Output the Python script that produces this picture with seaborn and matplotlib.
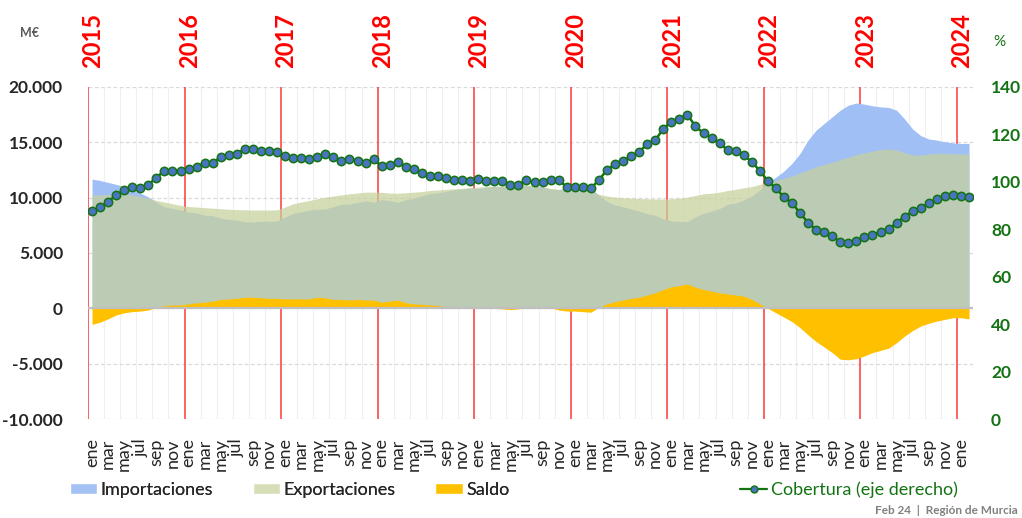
import numpy as np
import pandas as pd
import matplotlib.pyplot as plt
import seaborn as sns
from matplotlib.patches import Patch
from matplotlib.lines import Line2D
from matplotlib.ticker import FuncFormatter
from matplotlib.transforms import blended_transform_factory

sns.set_theme(style='white')
plt.rcParams['font.family'] = ['Lato', 'DejaVu Sans']

##############################################################################
# data (miles de M€ y %), ene 2015 - feb 2024
##############################################################################
years = list(range(2015, 2025))
meses = ['ene', 'feb', 'mar', 'abr', 'may', 'jun',
         'jul', 'ago', 'sep', 'oct', 'nov', 'dic']

importaciones = [
    11.68, 11.55, 11.38, 11.20, 11.00, 10.75, 10.42, 10.05, 9.58, 9.17, 9.03, 8.88,
    8.71, 8.62, 8.42, 8.37, 8.15, 8.04, 7.98, 7.81, 7.81, 7.87, 7.87, 7.90,
    8.26, 8.58, 8.71, 8.88, 8.97, 8.98, 9.19, 9.41, 9.43, 9.57, 9.72, 9.59,
    9.82, 9.74, 9.59, 9.82, 9.94, 10.18, 10.38, 10.43, 10.56, 10.71, 10.76, 10.87,
    10.82, 10.96, 11.01, 11.01, 11.21, 11.26, 11.06, 11.07, 10.97, 10.76, 10.72, 10.90,
    10.89, 10.84, 10.84, 10.22, 9.67, 9.34, 9.18, 8.98, 8.80, 8.54, 8.41, 8.07,
    7.89, 7.85, 7.83, 8.27, 8.59, 8.78, 9.02, 9.40, 9.52, 9.79, 10.15, 10.70,
    11.37, 11.85, 12.40, 13.10, 14.00, 15.20, 16.10, 16.70, 17.30, 17.90, 18.35, 18.55,
    18.45, 18.30, 18.20, 18.15, 17.90, 17.10, 16.20, 15.60, 15.30, 15.20, 15.05, 14.95,
    14.90, 14.90,
]
exportaciones = [
    10.24, 10.25, 10.28, 10.30, 10.30, 10.25, 10.10, 9.95, 9.75, 9.60, 9.45, 9.30,
    9.20, 9.15, 9.10, 9.05, 9.00, 8.95, 8.92, 8.90, 8.88, 8.88, 8.88, 8.90,
    9.15, 9.45, 9.60, 9.75, 9.90, 10.05, 10.15, 10.25, 10.35, 10.42, 10.50, 10.50,
    10.48, 10.42, 10.40, 10.45, 10.50, 10.55, 10.65, 10.70, 10.75, 10.80, 10.85, 10.90,
    10.95, 11.00, 11.05, 11.05, 11.08, 11.12, 11.15, 11.05, 10.95, 10.85, 10.75, 10.70,
    10.65, 10.60, 10.55, 10.30, 10.15, 10.05, 10.00, 9.95, 9.92, 9.90, 9.88, 9.88,
    9.90, 9.95, 10.05, 10.20, 10.35, 10.40, 10.50, 10.65, 10.75, 10.90, 11.00, 11.20,
    11.40, 11.55, 11.75, 11.95, 12.25, 12.50, 12.80, 13.00, 13.20, 13.45, 13.65, 13.90,
    14.05, 14.20, 14.35, 14.40, 14.30, 14.05, 13.85, 13.85, 13.95, 14.00, 14.00, 13.98,
    13.95, 13.95,
]
saldo = [
    -1.45, -1.25, -0.95, -0.60, -0.40, -0.30, -0.25, -0.15, 0.10, 0.25, 0.30, 0.30,
    0.40, 0.50, 0.55, 0.65, 0.80, 0.85, 0.90, 1.00, 1.00, 0.95, 0.90, 0.90,
    0.85, 0.85, 0.85, 0.85, 1.00, 0.95, 0.80, 0.80, 0.75, 0.80, 0.75, 0.75,
    0.55, 0.65, 0.75, 0.50, 0.40, 0.35, 0.30, 0.25, 0.15, 0.10, 0.05, 0.03,
    0.05, 0.02, 0.00, -0.05, -0.12, -0.05, 0.05, 0.02, 0.05, 0.05, -0.15, -0.25,
    -0.25, -0.30, -0.35, 0.10, 0.40, 0.60, 0.75, 0.90, 1.00, 1.20, 1.40, 1.70,
    1.95, 2.05, 2.20, 1.90, 1.70, 1.55, 1.40, 1.30, 1.20, 1.10, 0.80, 0.40,
    0.00, -0.40, -0.80, -1.20, -1.75, -2.40, -3.00, -3.50, -4.00, -4.60, -4.65, -4.55,
    -4.30, -4.00, -3.80, -3.60, -3.10, -2.50, -2.00, -1.60, -1.35, -1.15, -1.00, -0.85,
    -0.85, -0.95,
]
cobertura = [
    87.7, 89.3, 91.5, 94.5, 96.5, 98.0, 97.4, 98.8, 101.8, 104.7, 104.7, 104.7,
    105.6, 106.2, 108.1, 108.1, 110.4, 111.3, 111.8, 113.9, 113.7, 112.9, 112.9, 112.7,
    110.8, 110.2, 110.2, 109.8, 110.4, 111.9, 110.4, 108.9, 109.8, 108.9, 108.0, 109.5,
    106.7, 107.0, 108.5, 106.4, 105.6, 103.6, 102.6, 102.6, 101.8, 100.8, 100.8, 100.3,
    101.2, 100.4, 100.4, 100.4, 98.8, 98.8, 100.8, 99.8, 99.8, 100.8, 100.8, 97.8,
    97.8, 97.8, 97.3, 100.8, 105.0, 107.6, 108.9, 110.8, 112.7, 115.9, 117.5, 122.4,
    125.4, 126.7, 128.3, 123.4, 120.5, 118.5, 116.4, 113.3, 112.9, 111.3, 108.4, 104.7,
    100.3, 97.3, 93.5, 91.1, 86.8, 82.8, 79.8, 78.9, 77.2, 74.5, 74.1, 75.2,
    76.8, 77.6, 79.0, 80.0, 82.8, 85.3, 87.7, 89.1, 91.0, 92.8, 94.1, 94.3,
    93.9, 93.5,
]

df = pd.DataFrame({
    'fecha': pd.date_range('2015-01-01', periods=len(cobertura), freq='MS'),
    'Importaciones': np.array(importaciones) * 1000,
    'Exportaciones': np.array(exportaciones) * 1000,
    'Saldo': np.array(saldo) * 1000,
    'Cobertura': cobertura,
})
df['idx'] = np.arange(len(df))
df['mes'] = [meses[m - 1] for m in df.fecha.dt.month]

verde = '#137313'
c_imp, c_exp, c_saldo = '#a0bff5', '#c6d19c', '#ffc000'

##############################################################################
# plot
##############################################################################
fig = plt.figure(figsize=(10.22, 5.18), dpi=100)
ax = fig.add_axes([0.0861, 0.1911, 0.866, 0.641])

for v in np.arange(-0.5, len(df), 2):
    ax.axvline(v, color='#efefef', lw=0.8, zorder=0)
for v in range(-10000, 20001, 5000):
    ax.axhline(v, color='#d9d9d9', lw=0.9, ls=(0, (3, 2)), zorder=0.2)
for j in range(len(years)):
    ax.axvline(12 * j - 0.5, color='#ff3b3b', lw=1.1, zorder=0.5)

ax.fill_between(df.idx, 0, df.Importaciones, color=c_imp, lw=0, zorder=1)
ax.fill_between(df.idx, 0, df.Exportaciones, color=c_exp, alpha=0.72, lw=0, zorder=1.5)
ax.fill_between(df.idx, 0, df.Saldo, color=c_saldo, lw=0, zorder=2)
ax.axhline(0, color='#bfbfbf', lw=1.6, zorder=2.5)

ax.set_xlim(-0.5, len(df) - 0.5)
ax.set_ylim(-10000, 20000)
ax.set_yticks(range(-10000, 20001, 5000))
ax.yaxis.set_major_formatter(FuncFormatter(lambda v, p: f'{v:,.0f}'.replace(',', '.')))
ax.set_xticks(df.idx[::2])
ax.set_xticklabels(df.mes[::2], rotation=90, fontsize=13)
ax.tick_params(axis='x', length=0, pad=14)
ax.tick_params(axis='y', length=0, pad=18, labelsize=12.5)
for t in ax.get_yticklabels():
    t.set_fontweight('bold')
ax.set(xlabel='', ylabel='')
sns.despine(ax=ax, left=True, bottom=True)

ax2 = ax.twinx()
sns.lineplot(data=df, x='idx', y='Cobertura', ax=ax2, color=verde, lw=1.8,
             marker='o', markersize=6, markerfacecolor='#4a74c0',
             markeredgecolor=verde, markeredgewidth=1.1, zorder=5)
ax2.set_ylim(0, 140)
ax2.set_yticks(range(0, 141, 20))
ax2.tick_params(axis='y', length=0, pad=13, labelsize=12.5, labelcolor=verde)
for t in ax2.get_yticklabels():
    t.set_fontweight('bold')
ax2.set(xlabel='', ylabel='')
for s in ax2.spines.values():
    s.set_visible(False)

# years on top
trans = blended_transform_factory(ax.transData, fig.transFigure)
for j, y in enumerate(years):
    ax.text(12 * j + 0.1, 1 - 68 / 518, str(y), transform=trans, rotation=90,
            ha='center', va='bottom', color='#ff0000', fontsize=17,
            fontweight='bold')

fig.text(20 / 1022, 1 - 33 / 518, 'M€', fontsize=9, fontweight='bold',
         color='#595959', va='center')
fig.text(993 / 1022, 1 - 42 / 518, '%', fontsize=11, color=verde, va='center')

leg1 = fig.legend(
    handles=[Patch(facecolor='#a4c2f4', label='Importaciones'),
             Patch(facecolor='#d6deb8', label='Exportaciones'),
             Patch(facecolor=c_saldo, label='Saldo')],
    loc='center left', bbox_to_anchor=(70 / 1022, 1 - 490 / 518), ncol=3,
    frameon=False, fontsize=13, handlelength=1.5, handleheight=0.55,
    handletextpad=0.2, columnspacing=2.2, borderpad=0, borderaxespad=0)
fig.add_artist(leg1)
leg2 = fig.legend(
    handles=[Line2D([], [], color=verde, lw=1.6, marker='o', markersize=5,
                    markerfacecolor='#4a74c0', markeredgecolor=verde,
                    label='Cobertura (eje derecho)')],
    loc='center left', bbox_to_anchor=(740 / 1022, 1 - 490 / 518),
    frameon=False, fontsize=13, handlelength=1.5, handletextpad=0.2,
    borderpad=0, borderaxespad=0)
for t in leg2.get_texts():
    t.set_color(verde)

fig.text(1018 / 1022, 1 - 510 / 518, 'Feb 24  |  Región de Murcia', ha='right',
         va='center', fontsize=8.5, fontweight='bold', color='#808080')

fig.savefig('out.png', dpi=100)
